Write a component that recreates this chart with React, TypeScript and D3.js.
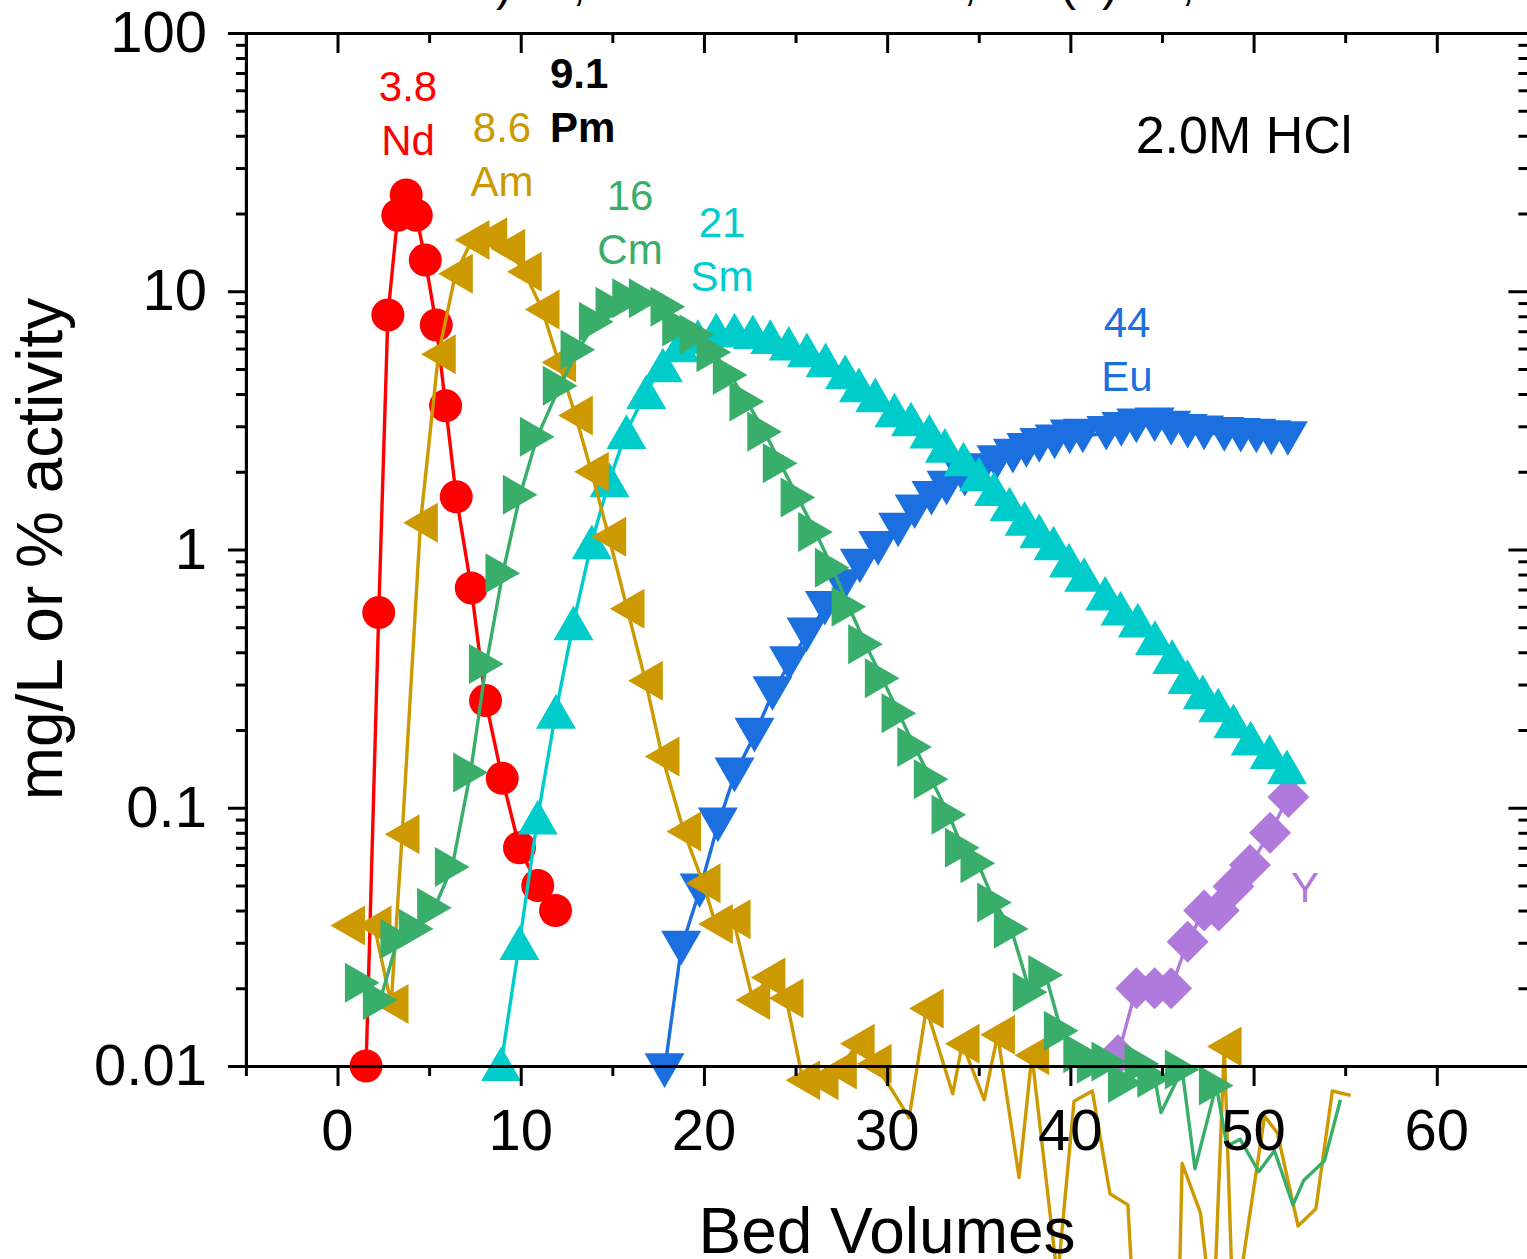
import React, { useEffect, useRef } from 'react';
import * as d3 from 'd3';

// elution profiles, 2.0M HCl — [bed volumes, mg/L or % activity]
const nd: [number, number][] = [
  [1.56, 0.01], [2.25, 0.57], [2.75, 8.1], [3.29, 19.7], [3.75, 23.6], [4.3, 19.7],
  [4.79, 13.2], [5.39, 7.4], [5.9, 3.6], [6.48, 1.6], [7.3, 0.71], [8.08, 0.26],
  [8.99, 0.13], [9.93, 0.07], [10.93, 0.05], [11.9, 0.04],
];

const am: [number, number][] = [
  [0.56, 0.035], [2.0, 0.035], [2.93, 0.0174], [3.53, 0.079], [4.53, 1.27], [5.51, 5.7],
  [6.44, 11.7], [7.35, 15.8], [8.32, 16.2], [9.3, 14.6], [10.2, 11.9], [11.17, 8.5],
  [12.08, 5.3], [12.99, 3.3], [13.86, 2.0], [14.81, 1.12], [15.81, 0.59], [16.81, 0.31],
  [17.72, 0.158], [18.9, 0.081], [19.96, 0.051], [20.63, 0.0355], [21.6, 0.037],
  [22.67, 0.018], [23.5, 0.022], [24.49, 0.0183], [25.4, 0.0088], [26.4, 0.0088],
  [27.4, 0.0097], [28.37, 0.0122], [29.3, 0.0102], [30.3, 0.008], [31.2, 0.0063],
  [32.14, 0.0167], [33.58, 0.0078], [34.1, 0.0122], [35.3, 0.0074], [36.03, 0.0132],
  [37.2, 0.0037], [37.9, 0.011], [39.3, 0.0015], [40.2, 0.0073], [41.2, 0.008],
  [42.16, 0.0032], [43.14, 0.0029], [43.5, 0.001], [45.9, 0.001], [46.1, 0.0042],
  [47.1, 0.0027], [47.8, 0.001], [48.4, 0.0119], [48.9, 0.001], [50.6, 0.0064],
  [51.3, 0.0055], [52.43, 0.0024], [53.4, 0.0028], [54.3, 0.008], [55.3, 0.0077],
];

const cm: [number, number][] = [
  [1.35, 0.021], [2.33, 0.018], [3.29, 0.031], [4.29, 0.034], [5.29, 0.041], [6.26, 0.059],
  [7.26, 0.137], [8.12, 0.36], [9.02, 0.81], [9.97, 1.63], [10.9, 2.73], [12.15, 4.31],
  [13.12, 5.93], [14.12, 7.62], [15.03, 8.7], [15.94, 9.4], [16.85, 9.4], [18.03, 8.7],
  [18.67, 7.3], [19.62, 6.8], [20.54, 5.8], [21.43, 4.74], [22.34, 3.74], [23.31, 2.86],
  [24.16, 2.16], [25.13, 1.59], [26.09, 1.17], [27.0, 0.85], [27.91, 0.6], [28.82, 0.43],
  [29.73, 0.317], [30.64, 0.232], [31.5, 0.172], [32.4, 0.129], [33.37, 0.094],
  [34.1, 0.07], [34.95, 0.061], [35.86, 0.043], [36.77, 0.034], [37.8, 0.0193],
  [38.65, 0.0225], [39.5, 0.0137], [40.56, 0.0112], [41.3, 0.0102], [42.1, 0.0104],
  [43.0, 0.0086], [43.9, 0.0102], [44.6, 0.009], [44.95, 0.0066], [46.1, 0.0097],
  [46.8, 0.004], [47.96, 0.0084], [48.55, 0.0049], [49.27, 0.0052], [50.28, 0.0039],
  [51.14, 0.0047], [52.15, 0.0029], [52.73, 0.0036], [53.87, 0.0043], [54.74, 0.0074],
];

const sm: [number, number][] = [
  [8.93, 0.0102], [9.93, 0.03], [10.93, 0.092], [11.92, 0.236], [12.88, 0.52], [13.88, 1.07],
  [14.85, 1.86], [15.77, 2.86], [16.85, 4.08], [17.76, 5.18], [18.67, 6.19], [19.67, 6.67],
  [20.67, 7.08], [21.67, 7.08], [22.67, 6.97], [23.62, 6.67], [24.63, 6.29], [25.62, 5.93],
  [26.64, 5.42], [27.71, 4.88], [28.46, 4.34], [29.35, 3.97], [30.4, 3.47], [31.3, 3.2],
  [32.3, 2.87], [33.15, 2.53], [34.17, 2.24], [35.01, 1.96], [35.84, 1.72], [36.68, 1.5],
  [37.5, 1.32], [38.3, 1.18], [39.08, 1.06], [39.92, 0.91], [40.75, 0.8], [41.9, 0.677],
  [42.74, 0.592], [43.68, 0.533], [44.62, 0.456], [45.56, 0.385], [46.39, 0.322],
  [47.23, 0.281], [48.07, 0.25], [48.9, 0.217], [49.84, 0.186], [50.88, 0.165], [51.82, 0.144],
];

const eu: [number, number][] = [
  [17.85, 0.0096], [18.76, 0.0286], [19.76, 0.0477], [20.76, 0.0858], [21.67, 0.134],
  [22.76, 0.191], [23.74, 0.277], [24.65, 0.362], [25.6, 0.467], [26.6, 0.592],
  [27.57, 0.718], [28.51, 0.863], [29.51, 1.01], [30.6, 1.19], [31.5, 1.4], [32.42, 1.58],
  [33.24, 1.73], [34.24, 1.87], [35.15, 2.02], [35.97, 2.17], [36.86, 2.3], [37.6, 2.42],
  [38.3, 2.53], [39.14, 2.61], [39.96, 2.73], [40.68, 2.75], [41.96, 2.82], [42.78, 2.92],
  [43.6, 3.01], [44.6, 3.04], [45.5, 2.95], [46.4, 2.87], [47.3, 2.83], [48.4, 2.79],
  [49.3, 2.77], [50.15, 2.75], [50.97, 2.71], [51.87, 2.69],
];

const yt: [number, number][] = [
  [42.6, 0.011], [43.6, 0.02], [44.6, 0.02], [45.5, 0.02], [46.4, 0.0303], [47.3, 0.04],
  [48.1, 0.04], [48.9, 0.0495], [49.8, 0.06], [50.9, 0.08], [51.9, 0.11],
];

const xMajor = [0, 10, 20, 30, 40, 50, 60];
const xMinor = [-5, 5, 15, 25, 35, 45, 55, 65];
const yMajor = [0.01, 0.1, 1, 10, 100];
const yLabels = ['0.01', '0.1', '1', '10', '100'];

const FONT = '"Liberation Sans", Arial, Helvetica, sans-serif';

// custom symbols, centred on their bounding box
const triangle = (dir: 'up' | 'down' | 'left' | 'right') => ({
  draw(ctx: any, size: number) {
    const s = Math.sqrt(size);
    const h = (s * Math.sqrt(3)) / 2;
    if (dir === 'up') { ctx.moveTo(0, -h / 2); ctx.lineTo(s / 2, h / 2); ctx.lineTo(-s / 2, h / 2); }
    if (dir === 'down') { ctx.moveTo(0, h / 2); ctx.lineTo(s / 2, -h / 2); ctx.lineTo(-s / 2, -h / 2); }
    if (dir === 'left') { ctx.moveTo(-h / 2, 0); ctx.lineTo(h / 2, -s / 2); ctx.lineTo(h / 2, s / 2); }
    if (dir === 'right') { ctx.moveTo(h / 2, 0); ctx.lineTo(-h / 2, -s / 2); ctx.lineTo(-h / 2, s / 2); }
    ctx.closePath();
  },
});
const diamond = {
  draw(ctx: any, size: number) {
    const d = Math.sqrt(size) / 2;
    ctx.moveTo(0, -d); ctx.lineTo(d, 0); ctx.lineTo(0, d); ctx.lineTo(-d, 0); ctx.closePath();
  },
};

const App = () => {
  const svgRef = useRef<SVGSVGElement>(null);

  useEffect(() => {
    const svg = d3.select(svgRef.current);
    svg.selectAll('*').remove();

    const x = d3.scaleLinear().domain([-5, 65]).range([245.9, 1528.4]);
    const y = d3.scaleLog().domain([0.01, 100]).range([1066, 33]);

    svg.append('rect').attr('width', 1527).attr('height', 1259).attr('fill', '#fff');

    // bottom to top, as stacked in the original
    const series = [
      { data: yt, color: '#B07ADC', type: diamond, size: 42 * 42 },
      { data: eu, color: '#1B6FDE', type: triangle('down'), size: 40 * 40 },
      { data: nd, color: '#FF0000', type: d3.symbolCircle, size: Math.PI * 16.5 * 16.5 },
      { data: sm, color: '#00CCCC', type: triangle('up'), size: 40 * 40 },
      { data: am, color: '#CC9900', type: triangle('left'), size: 40 * 40 },
      { data: cm, color: '#38AE6A', type: triangle('right'), size: 40 * 40 },
    ];

    const line = d3.line<[number, number]>()
      .x(d => x(d[0]))
      .y(d => y(d[1]));

    series.forEach(s => {
      const g = svg.append('g');
      g.append('path')
        .attr('d', line(s.data))
        .attr('fill', 'none')
        .attr('stroke', s.color)
        .attr('stroke-width', 3.4)
        .attr('stroke-linejoin', 'round');
      // points far below the axis only carry the line
      g.selectAll('path.pt')
        .data(s.data.filter(d => d[1] >= 0.0083))
        .enter().append('path')
        .attr('class', 'pt')
        .attr('transform', d => `translate(${x(d[0])},${y(d[1])})`)
        .attr('d', d3.symbol(s.type as any, s.size)())
        .attr('fill', s.color);
    });

    // axes
    const yMinor: number[] = [];
    for (let e = -2; e < 2; e++) for (let k = 2; k <= 9; k++) yMinor.push(k * Math.pow(10, e));

    const styleAxis = (g: any) => {
      g.select('.domain').attr('stroke-width', 3).attr('stroke', '#000');
      g.selectAll('.tick line').attr('stroke-width', 3).attr('stroke', '#000');
      g.selectAll('.tick text').remove();
    };

    svg.append('g').attr('transform', 'translate(0,1066)')
      .call(d3.axisBottom(x).tickValues(xMajor).tickSize(20).tickSizeOuter(0)).call(styleAxis);
    svg.append('g').attr('transform', 'translate(0,1066)')
      .call(d3.axisBottom(x).tickValues(xMinor).tickSize(10).tickSizeOuter(0)).call(styleAxis);
    svg.append('g').attr('transform', 'translate(0,33)')
      .call(d3.axisTop(x).tickValues(xMajor).tickSize(-20).tickSizeOuter(0)).call(styleAxis);
    svg.append('g').attr('transform', 'translate(0,33)')
      .call(d3.axisTop(x).tickValues(xMinor).tickSize(-10).tickSizeOuter(0)).call(styleAxis);
    svg.append('g').attr('transform', 'translate(245.9,0)')
      .call(d3.axisLeft(y).tickValues(yMajor).tickSize(18).tickSizeOuter(0)).call(styleAxis);
    svg.append('g').attr('transform', 'translate(245.9,0)')
      .call(d3.axisLeft(y).tickValues(yMinor).tickSize(10).tickSizeOuter(0)).call(styleAxis);
    svg.append('g').attr('transform', 'translate(1528.4,0)')
      .call(d3.axisRight(y).tickValues(yMajor).tickSize(-20).tickSizeOuter(0)).call(styleAxis);
    svg.append('g').attr('transform', 'translate(1528.4,0)')
      .call(d3.axisRight(y).tickValues(yMinor).tickSize(-10).tickSizeOuter(0)).call(styleAxis);

    // tick labels
    svg.selectAll('.xl')
      .data(xMajor)
      .enter().append('text')
      .attr('x', d => x(d))
      .attr('y', 1150)
      .attr('text-anchor', 'middle')
      .style('font-family', FONT)
      .style('font-size', '58px')
      .text(d => String(d));

    svg.selectAll('.yl')
      .data(yMajor)
      .enter().append('text')
      .attr('x', 207)
      .attr('y', d => y(d) + 19)
      .attr('text-anchor', 'end')
      .style('font-family', FONT)
      .style('font-size', '58px')
      .text((d, i) => yLabels[i]);

    // axis titles
    svg.append('text')
      .attr('x', 887)
      .attr('y', 1253)
      .attr('text-anchor', 'middle')
      .style('font-family', FONT)
      .style('font-size', '64px')
      .text('Bed Volumes');

    svg.append('text')
      .attr('transform', 'translate(62,549) rotate(-90)')
      .attr('text-anchor', 'middle')
      .style('font-family', FONT)
      .style('font-size', '64px')
      .text('mg/L or % activity');

    // title, cut off at the top of the picture
    const titleBits = [
      { t: ')', x: 504 }, { t: ',', x: 579 }, { t: ',', x: 970 },
      { t: '(', x: 1068 }, { t: ')', x: 1110 }, { t: ',', x: 1188 },
    ];
    svg.selectAll('.tb')
      .data(titleBits)
      .enter().append('text')
      .attr('x', d => d.x)
      .attr('y', 0)
      .attr('text-anchor', 'middle')
      .style('font-family', FONT)
      .style('font-size', '48px')
      .text(d => d.t);

    // peak annotations
    const notes = [
      { a: '3.8', b: 'Nd', x: 408, y: 101, color: '#FF0000', bold: false, anchor: 'middle' },
      { a: '8.6', b: 'Am', x: 502, y: 142, color: '#CC9900', bold: false, anchor: 'middle' },
      { a: '9.1', b: 'Pm', x: 550, y: 88, color: '#000', bold: true, anchor: 'start' },
      { a: '16', b: 'Cm', x: 630, y: 210, color: '#38AE6A', bold: false, anchor: 'middle' },
      { a: '21', b: 'Sm', x: 722, y: 237, color: '#00CCCC', bold: false, anchor: 'middle' },
      { a: '44', b: 'Eu', x: 1127, y: 337, color: '#1B6FDE', bold: false, anchor: 'middle' },
    ];
    notes.forEach(n => {
      const t = svg.append('text')
        .attr('text-anchor', n.anchor)
        .style('font-family', FONT)
        .style('font-size', '42px')
        .style('font-weight', n.bold ? 'bold' : 'normal')
        .style('fill', n.color);
      t.append('tspan').attr('x', n.x).attr('y', n.y).text(n.a);
      t.append('tspan').attr('x', n.x).attr('y', n.y + 54).text(n.b);
    });

    svg.append('text')
      .attr('x', 1305)
      .attr('y', 902)
      .attr('text-anchor', 'middle')
      .style('font-family', FONT)
      .style('font-size', '42px')
      .style('fill', '#B07ADC')
      .text('Y');

    svg.append('text')
      .attr('x', 1244)
      .attr('y', 153)
      .attr('text-anchor', 'middle')
      .style('font-family', FONT)
      .style('font-size', '52px')
      .text('2.0M HCl');
  }, []);

  return (
    <svg
      ref={svgRef}
      width={1527}
      height={1259}
      style={{ position: 'absolute', left: 0, top: 0, display: 'block' }}
    />
  );
};

export default App;
